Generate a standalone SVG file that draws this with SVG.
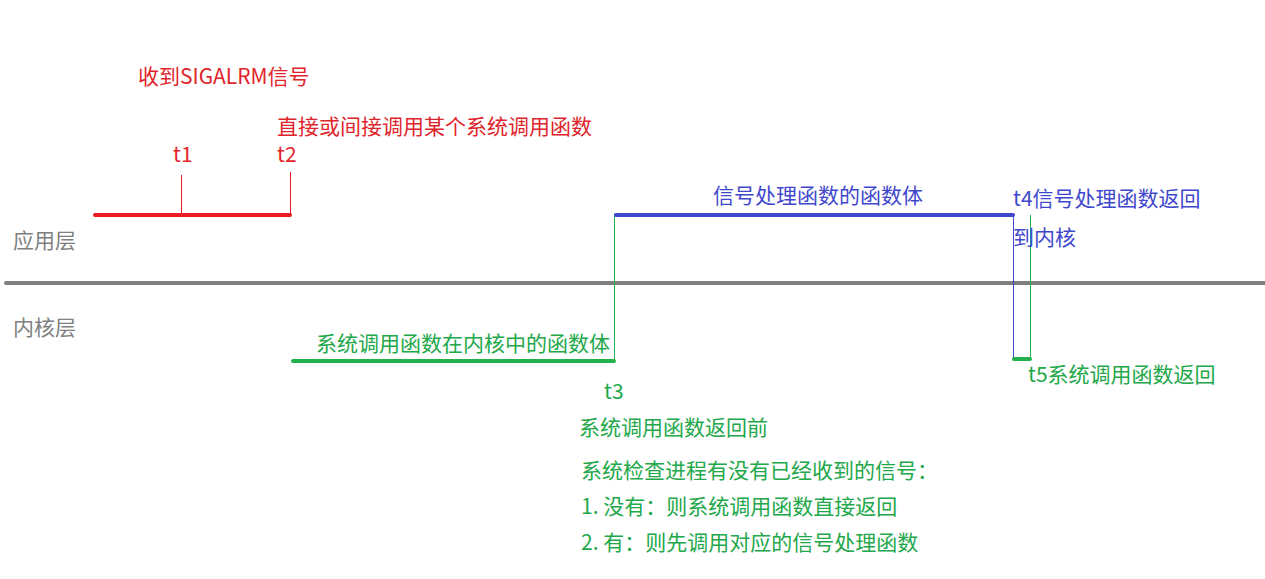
<svg xmlns="http://www.w3.org/2000/svg" width="1265" height="579" viewBox="0 0 1265 579">
<style>
text{font-family:"Noto Sans CJK SC","Microsoft YaHei",sans-serif;font-size:21px}
.r{fill:#e0242b}.b{fill:#3f48cc}.g{fill:#22a84a}.k{fill:#7f7f7f}
.thick{stroke-width:4;stroke-linecap:round;fill:none}
.thin{stroke-width:1;fill:none}
.sr{stroke:#ed1c24}.sb{stroke:#3f48cc}.sg{stroke:#22b14c}.sk{stroke:#7f7f7f}
</style>
<rect width="1265" height="579" fill="#fff"/>
<g id="layers">
<line class="thick sk" x1="6" y1="283" x2="1265" y2="283"/>
<text class="k" x="13" y="248">应用层</text>
<text class="k" x="13" y="335">内核层</text>
</g>
<g id="connectors">
<line class="thin sr" x1="181.5" y1="175" x2="181.5" y2="215"/>
<line class="thin sr" x1="290.5" y1="172" x2="290.5" y2="215"/>
<line class="thin sg" x1="614.5" y1="214" x2="614.5" y2="361"/>
<line class="thin sb" x1="1013.5" y1="215" x2="1013.5" y2="359"/>
<line class="thin sg" x1="1030.5" y1="215" x2="1030.5" y2="359"/>
</g>
<g id="user-segment">
<line class="thick sr" x1="95" y1="215" x2="290" y2="215"/>
<text class="r" x="138" y="84">收到SIGALRM信号</text>
<text class="r" x="277" y="134">直接或间接调用某个系统调用函数</text>
<text class="r" x="173" y="162">t1</text>
<text class="r" x="277" y="162">t2</text>
</g>
<g id="kernel-syscall">
<line class="thick sg" x1="293" y1="361" x2="614" y2="361"/>
<text class="g" x="316" y="351">系统调用函数在内核中的函数体</text>
<text class="g" x="604" y="399">t3</text>
</g>
<g id="handler">
<line class="thick sb" x1="616" y1="215" x2="1013" y2="215"/>
<text class="b" x="713" y="203">信号处理函数的函数体</text>
<text class="b" x="1013" y="206">t4信号处理函数返回</text>
<text class="b" x="1013" y="245">到内核</text>
</g>
<g id="syscall-return">
<line class="thick sg" x1="1014" y1="359" x2="1030" y2="359" stroke-linecap="butt"/>
<text class="g" x="1028" y="382">t5系统调用函数返回</text>
</g>
<g id="notes">
<text class="g" x="579" y="435">系统调用函数返回前</text>
<text class="g" x="581" y="478">系统检查进程有没有已经收到的信号：</text>
<text class="g" x="581" y="514">1. 没有：则系统调用函数直接返回</text>
<text class="g" x="581" y="550">2. 有：则先调用对应的信号处理函数</text>
</g>
</svg>
